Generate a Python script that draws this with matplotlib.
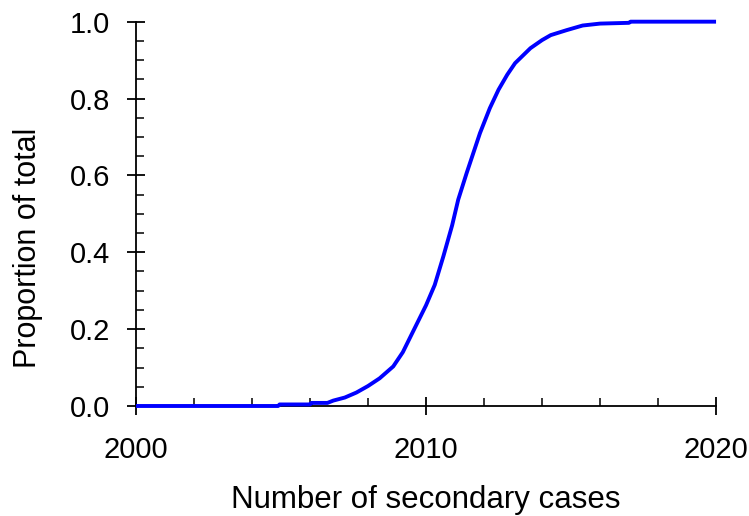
import matplotlib
matplotlib.use("Agg")
import matplotlib.pyplot as plt
from matplotlib.ticker import MultipleLocator

plt.rcParams['font.family'] = ['Liberation Sans', 'DejaVu Sans']

# cumulative proportion
years = [2000, 2004.9, 2004.95, 2006.0, 2006.05, 2006.6, 2006.8, 2007.2, 2007.6,
         2008.0, 2008.4, 2008.87, 2009.2, 2009.56, 2010.0, 2010.3, 2010.6,
         2010.9, 2011.11, 2011.4, 2011.86, 2012.2, 2012.5, 2012.8, 2013.07,
         2013.6, 2014.0, 2014.3, 2014.85, 2015.4, 2016.0, 2017.0, 2017.05, 2020]
prop = [0.0, 0.0, 0.004, 0.004, 0.008, 0.008, 0.014, 0.022, 0.035,
        0.052, 0.072, 0.103, 0.14, 0.195, 0.262, 0.315, 0.39,
        0.47, 0.537, 0.606, 0.71, 0.775, 0.823, 0.862, 0.892,
        0.931, 0.952, 0.965, 0.978, 0.99, 0.995, 0.997, 1.0, 1.0]

fig = plt.figure(figsize=(7.49, 5.16), dpi=100)
ax = fig.add_axes([0.1816, 0.2132, 0.7744, 0.7448])

ax.plot(years, prop, color='#0000ff', lw=2.8, solid_capstyle='butt',
        clip_on=False, zorder=3)

ax.set_xlim(2000, 2020)
ax.set_ylim(0, 1.0)
ax.xaxis.set_major_locator(MultipleLocator(10))
ax.xaxis.set_minor_locator(MultipleLocator(2))
ax.yaxis.set_major_locator(MultipleLocator(0.2))
ax.yaxis.set_minor_locator(MultipleLocator(0.05))
ax.yaxis.set_major_formatter(plt.FuncFormatter(lambda v, p: f"{v:.1f}"))

for s in ['top', 'right']:
    ax.spines[s].set_visible(False)
for s in ['left', 'bottom']:
    ax.spines[s].set_linewidth(1.3)

ax.tick_params(which='major', direction='inout', length=13.5, width=1.3,
               labelsize=21)
ax.tick_params(axis='x', which='major', pad=15)
ax.tick_params(axis='y', which='major', pad=12)
ax.tick_params(which='minor', direction='in', length=5.8, width=1.1)

ax.set_xlabel("Number of secondary cases", fontsize=22.5, labelpad=15)
ax.set_ylabel("Proportion of total", fontsize=22)
ax.yaxis.set_label_coords(-0.161, 0.411)

fig.savefig("out.png", dpi=100)
